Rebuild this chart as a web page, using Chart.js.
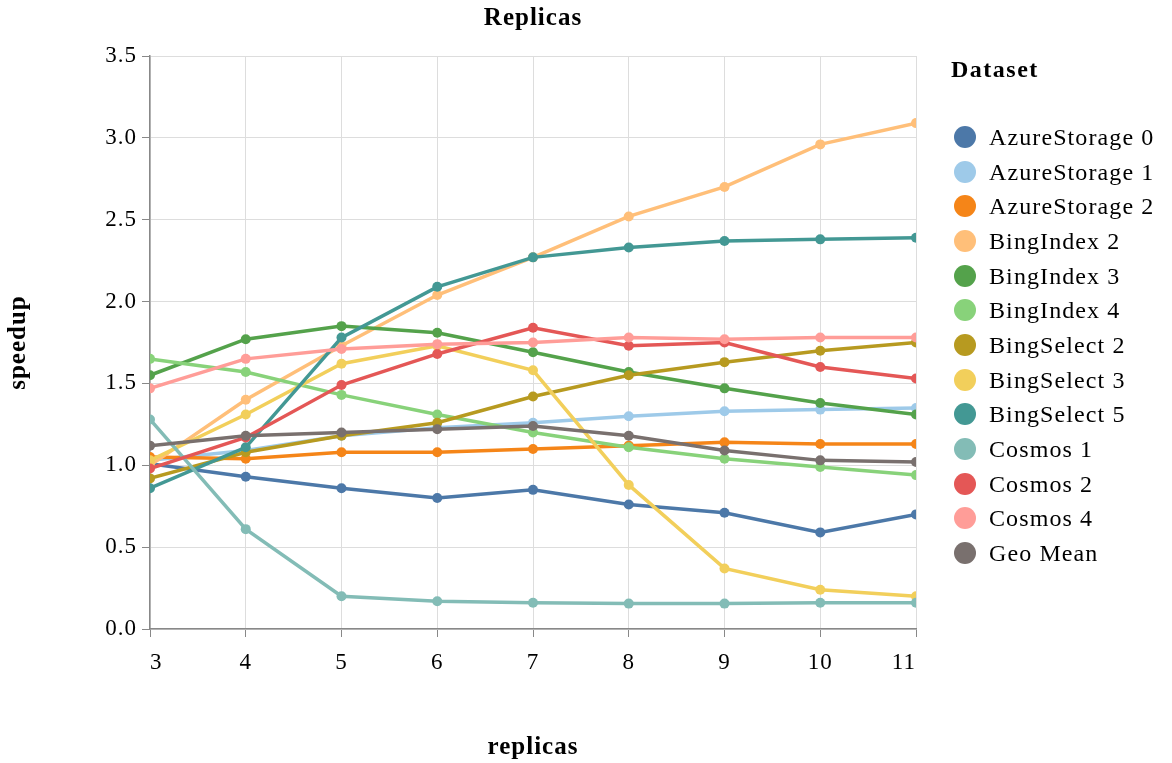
<!DOCTYPE html>
<html>
<head>
<meta charset="utf-8">
<script src="https://cdn.jsdelivr.net/npm/chart.js@4.4.1/dist/chart.umd.min.js"></script>
<style>
  html, body { margin: 0; padding: 0; background: #fff; }
  #wrap { position: relative; width: 1172px; height: 763px; }
  #legend { position: absolute; left: 951px; top: 0; font-family: 'Liberation Serif', serif; color: #000; }
  #legend .lt { position: absolute; top: 56px; left: 0; font-weight: bold; font-size: 24px; letter-spacing: 1.5px; white-space: nowrap; }
  #legend .li { position: absolute; left: 3px; height: 24px; line-height: 24px; font-size: 24px; letter-spacing: 1.1px; white-space: nowrap; }
  #legend .dot { position: absolute; left: 0; top: 1px; width: 22px; height: 22px; border-radius: 50%; }
  #legend .txt { position: absolute; left: 35px; top: 0; }
</style>
</head>
<body>
<div id="wrap">
  <canvas id="chart" width="1172" height="763"></canvas>
  <div id="legend"></div>
</div>
<script>
const REPLICAS = [3, 4, 5, 6, 7, 8, 9, 10, 11];
const Y_TICKS = [0, 0.5, 1, 1.5, 2, 2.5, 3, 3.5];

const NAMES = ['AzureStorage 0','AzureStorage 1','AzureStorage 2','BingIndex 2','BingIndex 3','BingIndex 4',
  'BingSelect 2','BingSelect 3','BingSelect 5','Cosmos 1','Cosmos 2','Cosmos 4','Geo Mean'];
const COLORS = ['#4c78a8','#9ecae9','#f58518','#ffbf79','#54a24b','#88d27a',
  '#b79a20','#f2cf5b','#439894','#83bcb6','#e45756','#ff9d98','#79706e'];

const azure0   = [1.01, 0.93, 0.86, 0.80, 0.85, 0.76, 0.71, 0.59, 0.70];
const azure1   = [1.03, 1.09, 1.18, 1.23, 1.26, 1.30, 1.33, 1.34, 1.35];
const azure2   = [1.05, 1.04, 1.08, 1.08, 1.10, 1.12, 1.14, 1.13, 1.13];
const bingIdx2 = [1.00, 1.40, 1.73, 2.04, 2.27, 2.52, 2.70, 2.96, 3.09];
const bingIdx3 = [1.55, 1.77, 1.85, 1.81, 1.69, 1.57, 1.47, 1.38, 1.31];
const bingIdx4 = [1.65, 1.57, 1.43, 1.31, 1.20, 1.11, 1.04, 0.99, 0.94];
const bingSel2 = [0.92, 1.08, 1.18, 1.26, 1.42, 1.55, 1.63, 1.70, 1.75];
const bingSel3 = [1.03, 1.31, 1.62, 1.73, 1.58, 0.88, 0.37, 0.24, 0.20];
const bingSel5 = [0.86, 1.11, 1.78, 2.09, 2.27, 2.33, 2.37, 2.38, 2.39];
const cosmos1  = [1.28, 0.61, 0.20, 0.17, 0.16, 0.155, 0.155, 0.16, 0.16];
const cosmos2  = [0.98, 1.17, 1.49, 1.68, 1.84, 1.73, 1.75, 1.60, 1.53];
const cosmos4  = [1.47, 1.65, 1.71, 1.74, 1.75, 1.78, 1.77, 1.78, 1.78];
const geoMean  = [1.12, 1.18, 1.20, 1.22, 1.24, 1.18, 1.09, 1.03, 1.02];

const SERIES = [azure0, azure1, azure2, bingIdx2, bingIdx3, bingIdx4, bingSel2, bingSel3, bingSel5, cosmos1, cosmos2, cosmos4, geoMean];

const FONT = "'Liberation Serif', serif";

const datasets = SERIES.map((vals, i) => ({
  label: NAMES[i],
  data: vals.map((v, j) => ({ x: REPLICAS[j], y: v })),
  borderColor: COLORS[i],
  backgroundColor: COLORS[i],
  pointBackgroundColor: COLORS[i],
  pointBorderWidth: 0,
  pointRadius: 5,
  borderWidth: 3.5,
  tension: 0,
  order: -i,
}));

// wider glyphs, closer to the original typeface
const spacing = {
  id: 'spacing',
  beforeInit: c => { c.ctx.letterSpacing = '1px'; },
  beforeDraw: c => { c.ctx.letterSpacing = '1px'; },
};

new Chart(document.getElementById('chart'), {
  type: 'line',
  data: { datasets },
  plugins: [spacing],
  options: {
    responsive: false,
    animation: false,
    layout: { padding: { left: 0, right: 256, top: 0, bottom: 0 } },
    plugins: { legend: { display: false }, tooltip: { enabled: false } },
    scales: {
      x: {
        type: 'linear', position: 'bottom', min: 3, max: 11,
        afterBuildTicks: s => { s.ticks = REPLICAS.map(v => ({ value: v })); },
        afterFit: s => { s.height = 134; },
        grid: { color: '#ddd', lineWidth: 1, tickColor: '#888', tickLength: 8 },
        border: { color: '#888', width: 1.5 },
        ticks: { color: '#000', font: { family: FONT, size: 23 }, padding: 12, align: 'inner', maxRotation: 0 },
        title: { display: true, text: 'replicas', color: '#000', font: { family: FONT, size: 25, weight: 'bold' }, padding: { top: 0, bottom: 0 } },
      },
      x2: {
        type: 'linear', position: 'top', min: 3, max: 11,
        afterFit: s => { s.height = 56; },
        grid: { display: false, drawTicks: false },
        border: { display: false },
        ticks: { display: false },
        title: { display: true, text: 'Replicas', color: '#000', font: { family: FONT, size: 25, weight: 'bold' }, padding: { top: 4, bottom: 0 } },
      },
      y: {
        min: 0, max: 3.5,
        afterBuildTicks: s => { s.ticks = Y_TICKS.map(v => ({ value: v })); },
        afterFit: s => { s.width = 150; },
        grid: { color: '#ddd', lineWidth: 1, tickColor: '#888', tickLength: 8 },
        border: { color: '#888', width: 1.5 },
        ticks: { color: '#000', font: { family: FONT, size: 23 }, padding: 5, callback: v => v.toFixed(1) },
        title: { display: true, text: 'speedup', color: '#000', font: { family: FONT, size: 25, weight: 'bold' }, padding: { top: 4, bottom: 0 } },
      },
    },
  },
});

// legend
const lg = document.getElementById('legend');
lg.innerHTML = `<div class="lt">Dataset</div>` + NAMES.map((n, i) =>
  `<div class="li" style="top:${125 + i * 34.67}px"><span class="dot" style="background:${COLORS[i]}"></span><span class="txt">${n}</span></div>`
).join('');
</script>
</body>
</html>
